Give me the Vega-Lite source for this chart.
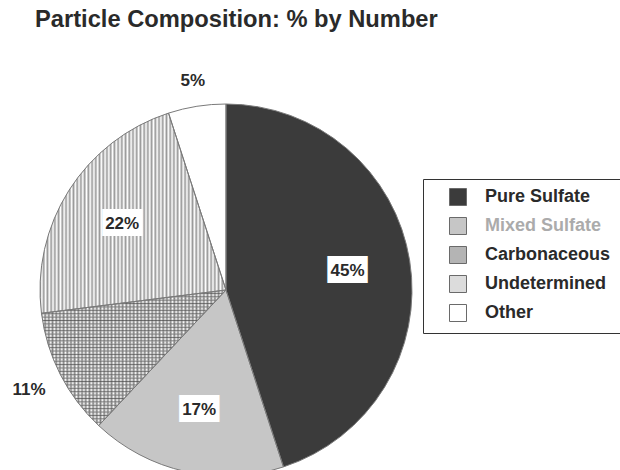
{
  "$schema": "https://vega.github.io/schema/vega-lite/v6.json",
  "width": 372,
  "height": 360,
  "autosize": "none",
  "padding": {"left": 40, "top": 110, "right": 208, "bottom": 0},
  "background": "white",
  "title": {
    "text": "Particle Composition: % by Number",
    "anchor": "start",
    "frame": "group",
    "font": "Liberation Sans",
    "fontSize": 23.7,
    "fontWeight": "bold",
    "color": "#2a2a2a",
    "baseline": "alphabetic",
    "dx": -5,
    "offset": 21
  },
  "data": {
    "values": [
      {"cat": "Pure Sulfate", "pct": 45, "label": "45%"},
      {"cat": "Mixed Sulfate", "pct": 17, "label": "17%"},
      {"cat": "Carbonaceous", "pct": 11, "label": "11%"},
      {"cat": "Undetermined", "pct": 22, "label": "22%"},
      {"cat": "Other", "pct": 5, "label": "5%"}
    ]
  },
  "transform": [
    {"window": [{"op": "row_number", "as": "rank"}]}
  ],
  "encoding": {
    "theta": {"field": "pct", "type": "quantitative", "stack": true},
    "order": {"field": "rank", "type": "quantitative"},
    "color": {
      "field": "cat",
      "type": "nominal",
      "scale": {
        "domain": ["Pure Sulfate", "Mixed Sulfate", "Carbonaceous", "Undetermined", "Other"],
        "range": ["#3b3b3b", "#c6c6c6", "#b4b4b4", "#dcdcdc", "#ffffff"]
      },
      "legend": {
        "title": null,
        "orient": "none",
        "legendX": 383,
        "legendY": 69,
        "symbolType": "square",
        "symbolSize": 289,
        "symbolStrokeColor": "#6a6a6a",
        "symbolStrokeWidth": 1,
        "labelFont": "Liberation Sans",
        "labelFontSize": 18,
        "labelFontWeight": "bold",
        "labelColor": {"expr": "datum.value === 'Mixed Sulfate' ? '#ababab' : '#2a2a2a'"},
        "padding": 9,
        "symbolOffset": 17,
        "labelOffset": 18,
        "rowPadding": 7,
        "fillColor": "white",
        "strokeColor": "#333333"
      }
    }
  },
  "layer": [
    {
      "mark": {"type": "arc", "outerRadius": 186}
    },
    {
      "mark": {"type": "arc", "outerRadius": 186},
      "encoding": {
        "fill": {
          "condition": [
            {
              "test": "datum.cat === 'Undetermined'",
              "value": {
                "gradient": "linear", "x1": 0, "y1": 0, "x2": 1, "y2": 0,
                "stops": [{"offset":0,"color":"#999"},{"offset":0.01,"color":"#fff"},{"offset":0.02,"color":"#999"},{"offset":0.03,"color":"#fff"},{"offset":0.04,"color":"#999"},{"offset":0.05,"color":"#fff"},{"offset":0.06,"color":"#999"},{"offset":0.07,"color":"#fff"},{"offset":0.08,"color":"#999"},{"offset":0.09,"color":"#fff"},{"offset":0.1,"color":"#999"},{"offset":0.11,"color":"#fff"},{"offset":0.12,"color":"#999"},{"offset":0.13,"color":"#fff"},{"offset":0.14,"color":"#999"},{"offset":0.15,"color":"#fff"},{"offset":0.16,"color":"#999"},{"offset":0.17,"color":"#fff"},{"offset":0.18,"color":"#999"},{"offset":0.19,"color":"#fff"},{"offset":0.2,"color":"#999"},{"offset":0.21,"color":"#fff"},{"offset":0.22,"color":"#999"},{"offset":0.23,"color":"#fff"},{"offset":0.24,"color":"#999"},{"offset":0.25,"color":"#fff"},{"offset":0.26,"color":"#999"},{"offset":0.27,"color":"#fff"},{"offset":0.28,"color":"#999"},{"offset":0.29,"color":"#fff"},{"offset":0.3,"color":"#999"},{"offset":0.31,"color":"#fff"},{"offset":0.32,"color":"#999"},{"offset":0.33,"color":"#fff"},{"offset":0.34,"color":"#999"},{"offset":0.35,"color":"#fff"},{"offset":0.36,"color":"#999"},{"offset":0.37,"color":"#fff"},{"offset":0.38,"color":"#999"},{"offset":0.39,"color":"#fff"},{"offset":0.4,"color":"#999"},{"offset":0.41,"color":"#fff"},{"offset":0.42,"color":"#999"},{"offset":0.43,"color":"#fff"},{"offset":0.44,"color":"#999"},{"offset":0.45,"color":"#fff"},{"offset":0.46,"color":"#999"},{"offset":0.47,"color":"#fff"},{"offset":0.48,"color":"#999"},{"offset":0.49,"color":"#fff"},{"offset":0.5,"color":"#999"},{"offset":0.51,"color":"#fff"},{"offset":0.52,"color":"#999"},{"offset":0.53,"color":"#fff"},{"offset":0.54,"color":"#999"},{"offset":0.55,"color":"#fff"},{"offset":0.56,"color":"#999"},{"offset":0.57,"color":"#fff"},{"offset":0.58,"color":"#999"},{"offset":0.59,"color":"#fff"},{"offset":0.6,"color":"#999"},{"offset":0.61,"color":"#fff"},{"offset":0.62,"color":"#999"},{"offset":0.63,"color":"#fff"},{"offset":0.64,"color":"#999"},{"offset":0.65,"color":"#fff"},{"offset":0.66,"color":"#999"},{"offset":0.67,"color":"#fff"},{"offset":0.68,"color":"#999"},{"offset":0.69,"color":"#fff"},{"offset":0.7,"color":"#999"},{"offset":0.71,"color":"#fff"},{"offset":0.72,"color":"#999"},{"offset":0.73,"color":"#fff"},{"offset":0.74,"color":"#999"},{"offset":0.75,"color":"#fff"},{"offset":0.76,"color":"#999"},{"offset":0.77,"color":"#fff"},{"offset":0.78,"color":"#999"},{"offset":0.79,"color":"#fff"},{"offset":0.8,"color":"#999"},{"offset":0.81,"color":"#fff"},{"offset":0.82,"color":"#999"},{"offset":0.83,"color":"#fff"},{"offset":0.84,"color":"#999"},{"offset":0.85,"color":"#fff"},{"offset":0.86,"color":"#999"},{"offset":0.87,"color":"#fff"},{"offset":0.88,"color":"#999"},{"offset":0.89,"color":"#fff"},{"offset":0.9,"color":"#999"},{"offset":0.91,"color":"#fff"},{"offset":0.92,"color":"#999"},{"offset":0.93,"color":"#fff"},{"offset":0.94,"color":"#999"},{"offset":0.95,"color":"#fff"},{"offset":0.96,"color":"#999"},{"offset":0.97,"color":"#fff"},{"offset":0.98,"color":"#999"},{"offset":0.99,"color":"#fff"},{"offset":1,"color":"#999"}]
              }
            },
            {
              "test": "datum.cat === 'Carbonaceous'",
              "value": {
                "gradient": "linear", "x1": 0, "y1": 0, "x2": 1, "y2": 0,
                "stops": [{"offset":0,"color":"#777"},{"offset":0.01,"color":"#fff"},{"offset":0.02,"color":"#777"},{"offset":0.03,"color":"#fff"},{"offset":0.04,"color":"#777"},{"offset":0.05,"color":"#fff"},{"offset":0.06,"color":"#777"},{"offset":0.07,"color":"#fff"},{"offset":0.08,"color":"#777"},{"offset":0.09,"color":"#fff"},{"offset":0.1,"color":"#777"},{"offset":0.11,"color":"#fff"},{"offset":0.12,"color":"#777"},{"offset":0.13,"color":"#fff"},{"offset":0.14,"color":"#777"},{"offset":0.15,"color":"#fff"},{"offset":0.16,"color":"#777"},{"offset":0.17,"color":"#fff"},{"offset":0.18,"color":"#777"},{"offset":0.19,"color":"#fff"},{"offset":0.2,"color":"#777"},{"offset":0.21,"color":"#fff"},{"offset":0.22,"color":"#777"},{"offset":0.23,"color":"#fff"},{"offset":0.24,"color":"#777"},{"offset":0.25,"color":"#fff"},{"offset":0.26,"color":"#777"},{"offset":0.27,"color":"#fff"},{"offset":0.28,"color":"#777"},{"offset":0.29,"color":"#fff"},{"offset":0.3,"color":"#777"},{"offset":0.31,"color":"#fff"},{"offset":0.32,"color":"#777"},{"offset":0.33,"color":"#fff"},{"offset":0.34,"color":"#777"},{"offset":0.35,"color":"#fff"},{"offset":0.36,"color":"#777"},{"offset":0.37,"color":"#fff"},{"offset":0.38,"color":"#777"},{"offset":0.39,"color":"#fff"},{"offset":0.4,"color":"#777"},{"offset":0.41,"color":"#fff"},{"offset":0.42,"color":"#777"},{"offset":0.43,"color":"#fff"},{"offset":0.44,"color":"#777"},{"offset":0.45,"color":"#fff"},{"offset":0.46,"color":"#777"},{"offset":0.47,"color":"#fff"},{"offset":0.48,"color":"#777"},{"offset":0.49,"color":"#fff"},{"offset":0.5,"color":"#777"},{"offset":0.51,"color":"#fff"},{"offset":0.52,"color":"#777"},{"offset":0.53,"color":"#fff"},{"offset":0.54,"color":"#777"},{"offset":0.55,"color":"#fff"},{"offset":0.56,"color":"#777"},{"offset":0.57,"color":"#fff"},{"offset":0.58,"color":"#777"},{"offset":0.59,"color":"#fff"},{"offset":0.6,"color":"#777"},{"offset":0.61,"color":"#fff"},{"offset":0.62,"color":"#777"},{"offset":0.63,"color":"#fff"},{"offset":0.64,"color":"#777"},{"offset":0.65,"color":"#fff"},{"offset":0.66,"color":"#777"},{"offset":0.67,"color":"#fff"},{"offset":0.68,"color":"#777"},{"offset":0.69,"color":"#fff"},{"offset":0.7,"color":"#777"},{"offset":0.71,"color":"#fff"},{"offset":0.72,"color":"#777"},{"offset":0.73,"color":"#fff"},{"offset":0.74,"color":"#777"},{"offset":0.75,"color":"#fff"},{"offset":0.76,"color":"#777"},{"offset":0.77,"color":"#fff"},{"offset":0.78,"color":"#777"},{"offset":0.79,"color":"#fff"},{"offset":0.8,"color":"#777"},{"offset":0.81,"color":"#fff"},{"offset":0.82,"color":"#777"},{"offset":0.83,"color":"#fff"},{"offset":0.84,"color":"#777"},{"offset":0.85,"color":"#fff"},{"offset":0.86,"color":"#777"},{"offset":0.87,"color":"#fff"},{"offset":0.88,"color":"#777"},{"offset":0.89,"color":"#fff"},{"offset":0.9,"color":"#777"},{"offset":0.91,"color":"#fff"},{"offset":0.92,"color":"#777"},{"offset":0.93,"color":"#fff"},{"offset":0.94,"color":"#777"},{"offset":0.95,"color":"#fff"},{"offset":0.96,"color":"#777"},{"offset":0.97,"color":"#fff"},{"offset":0.98,"color":"#777"},{"offset":0.99,"color":"#fff"},{"offset":1,"color":"#777"}]
              }
            }
          ],
          "value": "transparent"
        }
      }
    },
    {
      "mark": {"type": "arc", "outerRadius": 186, "stroke": "#7a7a7a", "strokeWidth": 1},
      "encoding": {
        "fill": {
          "condition": {
            "test": "datum.cat === 'Carbonaceous'",
            "value": {
              "gradient": "linear", "x1": 0, "y1": 0, "x2": 0, "y2": 1,
              "stops": [{"offset":0,"color":"rgba(85,85,85,0.8)"},{"offset":0.0125,"color":"rgba(255,255,255,0)"},{"offset":0.025,"color":"rgba(85,85,85,0.8)"},{"offset":0.0375,"color":"rgba(255,255,255,0)"},{"offset":0.05,"color":"rgba(85,85,85,0.8)"},{"offset":0.0625,"color":"rgba(255,255,255,0)"},{"offset":0.075,"color":"rgba(85,85,85,0.8)"},{"offset":0.0875,"color":"rgba(255,255,255,0)"},{"offset":0.1,"color":"rgba(85,85,85,0.8)"},{"offset":0.1125,"color":"rgba(255,255,255,0)"},{"offset":0.125,"color":"rgba(85,85,85,0.8)"},{"offset":0.1375,"color":"rgba(255,255,255,0)"},{"offset":0.15,"color":"rgba(85,85,85,0.8)"},{"offset":0.1625,"color":"rgba(255,255,255,0)"},{"offset":0.175,"color":"rgba(85,85,85,0.8)"},{"offset":0.1875,"color":"rgba(255,255,255,0)"},{"offset":0.2,"color":"rgba(85,85,85,0.8)"},{"offset":0.2125,"color":"rgba(255,255,255,0)"},{"offset":0.225,"color":"rgba(85,85,85,0.8)"},{"offset":0.2375,"color":"rgba(255,255,255,0)"},{"offset":0.25,"color":"rgba(85,85,85,0.8)"},{"offset":0.2625,"color":"rgba(255,255,255,0)"},{"offset":0.275,"color":"rgba(85,85,85,0.8)"},{"offset":0.2875,"color":"rgba(255,255,255,0)"},{"offset":0.3,"color":"rgba(85,85,85,0.8)"},{"offset":0.3125,"color":"rgba(255,255,255,0)"},{"offset":0.325,"color":"rgba(85,85,85,0.8)"},{"offset":0.3375,"color":"rgba(255,255,255,0)"},{"offset":0.35,"color":"rgba(85,85,85,0.8)"},{"offset":0.3625,"color":"rgba(255,255,255,0)"},{"offset":0.375,"color":"rgba(85,85,85,0.8)"},{"offset":0.3875,"color":"rgba(255,255,255,0)"},{"offset":0.4,"color":"rgba(85,85,85,0.8)"},{"offset":0.4125,"color":"rgba(255,255,255,0)"},{"offset":0.425,"color":"rgba(85,85,85,0.8)"},{"offset":0.4375,"color":"rgba(255,255,255,0)"},{"offset":0.45,"color":"rgba(85,85,85,0.8)"},{"offset":0.4625,"color":"rgba(255,255,255,0)"},{"offset":0.475,"color":"rgba(85,85,85,0.8)"},{"offset":0.4875,"color":"rgba(255,255,255,0)"},{"offset":0.5,"color":"rgba(85,85,85,0.8)"},{"offset":0.5125,"color":"rgba(255,255,255,0)"},{"offset":0.525,"color":"rgba(85,85,85,0.8)"},{"offset":0.5375,"color":"rgba(255,255,255,0)"},{"offset":0.55,"color":"rgba(85,85,85,0.8)"},{"offset":0.5625,"color":"rgba(255,255,255,0)"},{"offset":0.575,"color":"rgba(85,85,85,0.8)"},{"offset":0.5875,"color":"rgba(255,255,255,0)"},{"offset":0.6,"color":"rgba(85,85,85,0.8)"},{"offset":0.6125,"color":"rgba(255,255,255,0)"},{"offset":0.625,"color":"rgba(85,85,85,0.8)"},{"offset":0.6375,"color":"rgba(255,255,255,0)"},{"offset":0.65,"color":"rgba(85,85,85,0.8)"},{"offset":0.6625,"color":"rgba(255,255,255,0)"},{"offset":0.675,"color":"rgba(85,85,85,0.8)"},{"offset":0.6875,"color":"rgba(255,255,255,0)"},{"offset":0.7,"color":"rgba(85,85,85,0.8)"},{"offset":0.7125,"color":"rgba(255,255,255,0)"},{"offset":0.725,"color":"rgba(85,85,85,0.8)"},{"offset":0.7375,"color":"rgba(255,255,255,0)"},{"offset":0.75,"color":"rgba(85,85,85,0.8)"},{"offset":0.7625,"color":"rgba(255,255,255,0)"},{"offset":0.775,"color":"rgba(85,85,85,0.8)"},{"offset":0.7875,"color":"rgba(255,255,255,0)"},{"offset":0.8,"color":"rgba(85,85,85,0.8)"},{"offset":0.8125,"color":"rgba(255,255,255,0)"},{"offset":0.825,"color":"rgba(85,85,85,0.8)"},{"offset":0.8375,"color":"rgba(255,255,255,0)"},{"offset":0.85,"color":"rgba(85,85,85,0.8)"},{"offset":0.8625,"color":"rgba(255,255,255,0)"},{"offset":0.875,"color":"rgba(85,85,85,0.8)"},{"offset":0.8875,"color":"rgba(255,255,255,0)"},{"offset":0.9,"color":"rgba(85,85,85,0.8)"},{"offset":0.9125,"color":"rgba(255,255,255,0)"},{"offset":0.925,"color":"rgba(85,85,85,0.8)"},{"offset":0.9375,"color":"rgba(255,255,255,0)"},{"offset":0.95,"color":"rgba(85,85,85,0.8)"},{"offset":0.9625,"color":"rgba(255,255,255,0)"},{"offset":0.975,"color":"rgba(85,85,85,0.8)"},{"offset":0.9875,"color":"rgba(255,255,255,0)"},{"offset":1,"color":"rgba(85,85,85,0.8)"}]
            }
          },
          "value": "transparent"
        }
      }
    },
    {
      "mark": {"type": "text", "radius": 123, "font": "DejaVu Sans Mono", "fontSize": 21, "baseline": "middle", "align": "center", "stroke": "white", "strokeWidth": 2},
      "encoding": {
        "text": {"condition": {"test": "datum.pct >= 15", "value": "███"}, "value": ""},
        "fill": {"value": "white"}
      }
    },
    {
      "mark": {
        "type": "text",
        "radius": {"expr": "datum.pct >= 15 ? 123 : (datum.pct < 8 ? 212 : 221)"},
        "font": "Liberation Sans",
        "fontSize": 17,
        "fontWeight": "bold",
        "baseline": "middle",
        "align": "center"
      },
      "encoding": {
        "text": {"field": "label"},
        "fill": {"value": "#2a2a2a"}
      }
    }
  ]
}
